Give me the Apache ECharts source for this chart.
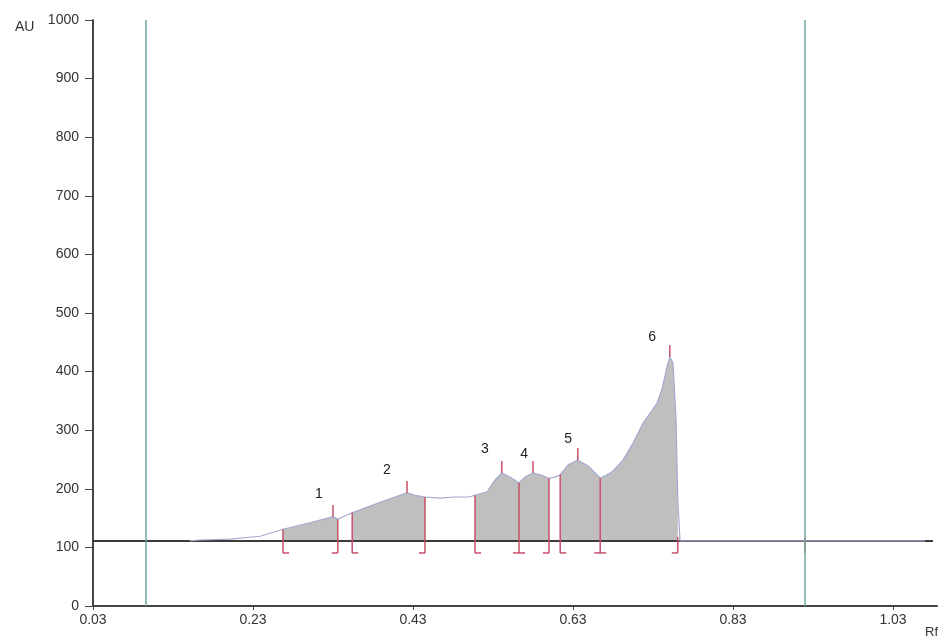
<!DOCTYPE html>
<html>
<head>
<meta charset="utf-8">
<style>
  html, body { margin: 0; padding: 0; background: #ffffff; }
  #chart { width: 943px; height: 642px; }
</style>
<script src="https://cdn.jsdelivr.net/npm/echarts@6/dist/echarts.min.js"></script>
</head>
<body>
<div id="chart"></div>
<script>
// ---- data ----
const BASE = 111;                       // baseline level (AU)
const curveRf = [0.151, 0.164, 0.201, 0.239, 0.2675, 0.301, 0.329, 0.3325, 0.336, 0.345, 0.354, 0.389,
  0.4225, 0.4325, 0.445, 0.464, 0.4825, 0.50, 0.5075, 0.5225, 0.5325, 0.541, 0.551, 0.5625, 0.57, 0.58,
  0.589, 0.600, 0.6075, 0.614, 0.624, 0.636, 0.649, 0.664, 0.67, 0.679, 0.6925, 0.705, 0.7175, 0.735,
  0.741, 0.7475, 0.751, 0.755, 0.7588, 0.761, 0.7638, 1.07];
const curveAU = [111, 112.6, 114, 119, 131, 142, 152, 151, 148, 154, 159, 177,
  193, 189, 186, 184, 186, 186, 189, 195, 215, 227, 220, 210, 220, 227,
  224, 218, 220, 224, 241, 249, 239, 218, 222, 229, 249, 278, 312, 346,
  369, 408, 425, 415, 317, 181, 111, 111];

const segStart = [0.2675, 0.354, 0.5075, 0.614];
const segEnd   = [0.336, 0.445, 0.600, 0.761];

const boundRf   = [0.2675, 0.336, 0.354, 0.445, 0.5075, 0.5625, 0.600, 0.614, 0.664, 0.761, 0.92];
const boundAU   = [131, 148, 159, 186, 189, 210, 218, 224, 218, 111, 111];
const boundFoot = ['right', 'left', 'right', 'left', 'right', 'both', 'left', 'right', 'both', 'left', 'none'];

const peakRf = [0.33, 0.4225, 0.541, 0.58, 0.636, 0.751];
const peakAU = [152, 193, 227, 227, 249, 425];

const peakLabels = ['1', '2', '3', '4', '5', '6'];
const labelRf = [0.3125, 0.3975, 0.52, 0.569, 0.624, 0.729];
const labelAU = [191, 232, 268, 259, 285, 459];

const frontRf = [0.09625, 0.92];        // application / front lines

const xTicks = [0.03, 0.23, 0.43, 0.63, 0.83, 1.03];
const yTicks = [0, 100, 200, 300, 400, 500, 600, 700, 800, 900, 1000];

// ---- chart ----
const FONT = "'Liberation Sans', Arial, sans-serif";
const RED = '#c8506a';
const chart = echarts.init(document.getElementById('chart'), null, { renderer: 'canvas' });

const curveData = curveRf.map((r, i) => [r, curveAU[i]]);

const option = {
  animation: false,
  backgroundColor: '#ffffff',
  grid: { left: 93, right: 6, top: 20, bottom: 36, containLabel: false },
  xAxis: {
    type: 'value', min: 0.03, max: 1.085,
    axisLine: { show: true, lineStyle: { color: '#444', width: 2 } },
    axisTick: { show: true, length: 4, lineStyle: { color: '#444' }, customValues: xTicks },
    axisLabel: { show: true, customValues: xTicks, color: '#333', fontSize: 14, fontFamily: FONT,
      margin: 7, formatter: v => v.toFixed(2) },
    splitLine: { show: false }
  },
  yAxis: {
    type: 'value', min: 0, max: 1000, interval: 100,
    axisLine: { show: true, lineStyle: { color: '#444', width: 2 } },
    axisTick: { show: true, inside: false, length: 8, lineStyle: { color: '#444' } },
    axisLabel: { show: true, color: '#333', fontSize: 14, fontFamily: FONT, margin: 14,
      formatter: v => yTicks.indexOf(v) >= 0 ? String(v) : '' },
    splitLine: { show: false }
  },
  graphic: [
    { type: 'text', left: 15, top: 20, style: { text: 'AU', fontSize: 14, fontFamily: FONT, fill: '#333' } },
    { type: 'text', left: 925, top: 626, style: { text: 'Rf', fontSize: 13, fontFamily: FONT, fill: '#333' } }
  ],
  series: [
    {
      // grey filled peak areas, between baseline and profile
      type: 'custom', z: 1, silent: true,
      data: segStart.map((s, i) => [s, segEnd[i], BASE]),
      encode: { x: [0, 1], y: 2 },
      renderItem: function (params, api) {
        const s = api.value(0), e = api.value(1);
        const pts = [api.coord([s, BASE])];
        for (let i = 0; i < curveRf.length; i++) {
          if (curveRf[i] >= s - 1e-9 && curveRf[i] <= e + 1e-9) pts.push(api.coord([curveRf[i], curveAU[i]]));
        }
        pts.push(api.coord([e, BASE]));
        return { type: 'polygon', shape: { points: pts }, style: { fill: '#bfbfbf', stroke: null } };
      }
    },
    {
      // baseline + front lines
      type: 'line', z: 2, silent: true, symbol: 'none',
      data: [[0.03, BASE], [1.08, BASE]],
      lineStyle: { color: '#3a3a3a', width: 2 },
      markLine: {
        silent: true, symbol: 'none', precision: 6, label: { show: false },
        lineStyle: { color: '#6fa8a3', width: 1.5, type: 'solid' },
        data: frontRf.map(r => ({ xAxis: r }))
      }
    },
    {
      // profile line
      type: 'line', z: 3, silent: true, symbol: 'none',
      data: curveData,
      lineStyle: { color: '#a3aad0', width: 1.2 }
    },
    {
      // peak boundary brackets
      type: 'custom', z: 4, silent: true,
      data: boundRf.map((r, i) => [r, boundAU[i], i]),
      encode: { x: 0, y: 1 },
      renderItem: function (params, api) {
        const i = api.value(2);
        const top = api.coord([api.value(0), api.value(1)]);
        const base = api.coord([api.value(0), BASE]);
        const by = base[1] + 12;
        const x = top[0];
        const ch = [{ type: 'line', shape: { x1: x, y1: Math.min(top[1], base[1] - 4), x2: x, y2: by },
          style: { stroke: RED, lineWidth: 1.5 } }];
        const f = boundFoot[i];
        if (f !== 'none') {
          const x1 = (f === 'left' || f === 'both') ? x - 6 : x;
          const x2 = (f === 'right' || f === 'both') ? x + 6 : x;
          ch.push({ type: 'line', shape: { x1: x1, y1: by, x2: x2, y2: by }, style: { stroke: RED, lineWidth: 1.5 } });
        }
        return { type: 'group', children: ch };
      }
    },
    {
      // peak maximum ticks
      type: 'custom', z: 4, silent: true,
      data: peakRf.map((r, i) => [r, peakAU[i]]),
      encode: { x: 0, y: 1 },
      renderItem: function (params, api) {
        const p = api.coord([api.value(0), api.value(1)]);
        return { type: 'line', shape: { x1: p[0], y1: p[1], x2: p[0], y2: p[1] - 12 },
          style: { stroke: RED, lineWidth: 1.5 } };
      }
    },
    {
      // peak numbers
      type: 'custom', z: 5, silent: true,
      data: labelRf.map((r, i) => [r, labelAU[i], i]),
      encode: { x: 0, y: 1 },
      renderItem: function (params, api) {
        const p = api.coord([api.value(0), api.value(1)]);
        return { type: 'text', x: p[0], y: p[1],
          style: { text: peakLabels[api.value(2)], fontSize: 14, fontFamily: FONT, fill: '#222',
            align: 'center', verticalAlign: 'middle' } };
      }
    }
  ]
};
chart.setOption(option);
</script>
</body>
</html>
